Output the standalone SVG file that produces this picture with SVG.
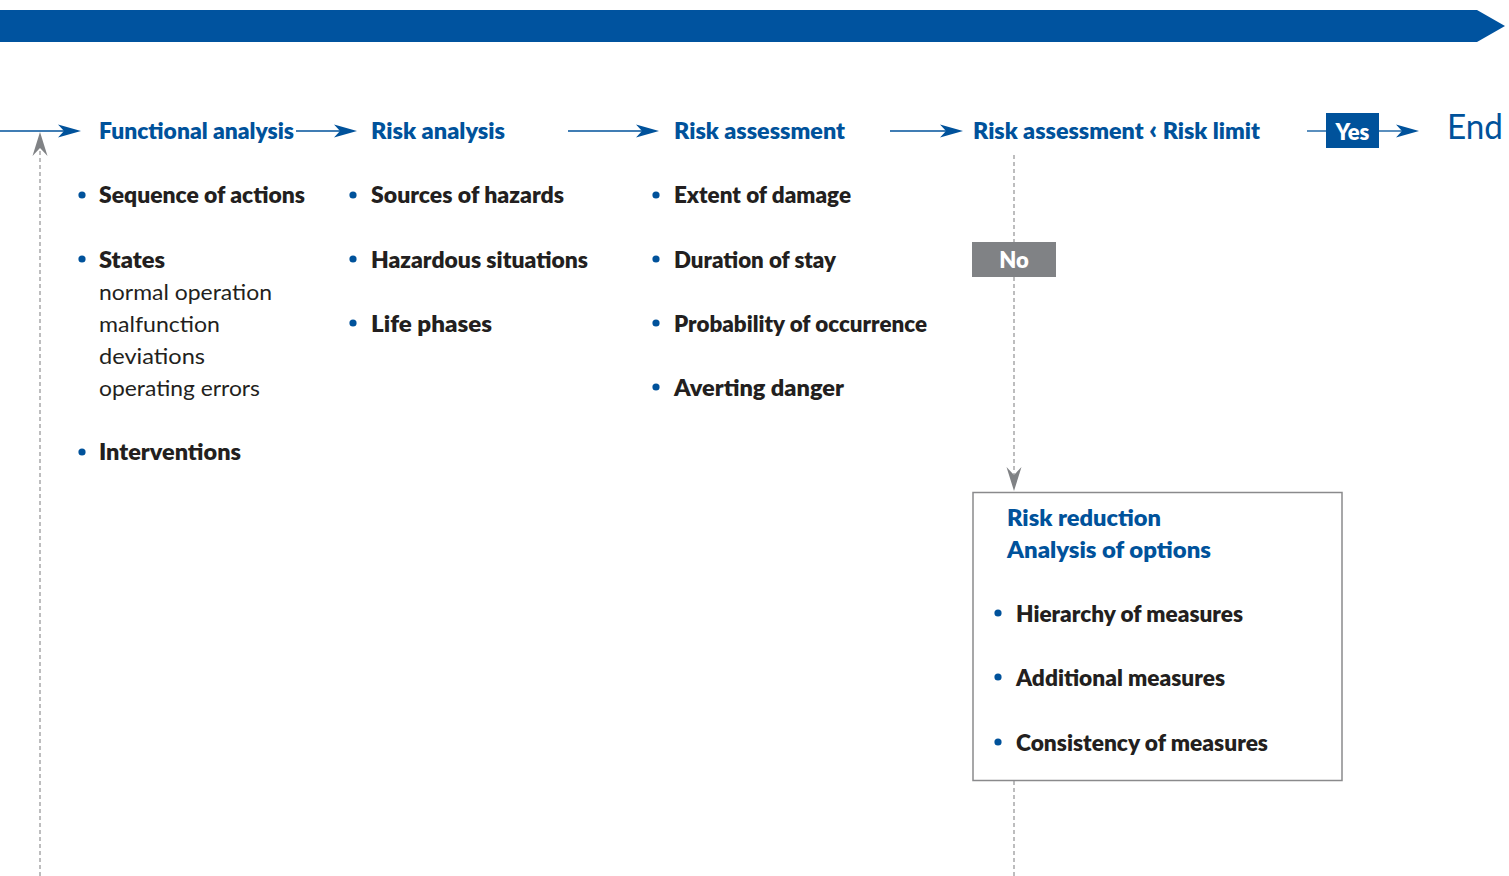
<svg xmlns="http://www.w3.org/2000/svg" xmlns:xlink="http://www.w3.org/1999/xlink" width="1509" height="876" viewBox="0 0 1509 876">
<style>
text{font-family:Lato,"Open Sans","Liberation Sans",sans-serif}
.h{fill:#00529b;font-weight:800;font-size:22px}
.b{fill:#231f20;font-weight:800;font-size:22px}
.r{fill:#231f20;font-weight:400;font-size:22px}
.w{fill:#fff;font-weight:800;font-size:22px}
.flow{stroke:#00529b;stroke-width:1.3;fill:none}
.dash{stroke:#9a9a9c;stroke-width:1.3;stroke-dasharray:4 3;fill:none}
.dot{fill:#00529b}
</style>
<defs>
<path id="ah" d="M0,0 L-23,-6.5 L-17,0 L-23,6.5 Z" fill="#00529b"/>
<path id="gh" d="M0,0 L-7.5,-24 L0,-16 L7.5,-24 Z" fill="#808285"/>
</defs>
<g id="banner"><path d="M0,10 H1477 L1505,26 L1477,42 H0 Z" fill="#00539f"/></g>
<g id="connectors">
<line class="flow" x1="0" y1="131" x2="64" y2="131"/><use xlink:href="#ah" x="81" y="131"/>
<line class="flow" x1="296" y1="131" x2="340" y2="131"/><use xlink:href="#ah" x="357" y="131"/>
<line class="flow" x1="568" y1="131" x2="642" y2="131"/><use xlink:href="#ah" x="659" y="131"/>
<line class="flow" x1="890" y1="131" x2="946" y2="131"/><use xlink:href="#ah" x="963" y="131"/>
<line class="flow" x1="1307" y1="131" x2="1326" y2="131"/>
<line class="flow" x1="1379" y1="131" x2="1402" y2="131"/><use xlink:href="#ah" x="1419" y="131"/>
<line class="dash" x1="40" y1="876" x2="40" y2="150"/>
<use xlink:href="#gh" transform="translate(40,132) rotate(180)"/>
<line class="dash" x1="1014" y1="155" x2="1014" y2="242"/>
<line class="dash" x1="1014" y1="277" x2="1014" y2="475"/>
<use xlink:href="#gh" x="1014" y="491"/>
<line class="dash" x1="1014" y1="781" x2="1014" y2="876"/>
</g>
<g id="functional-analysis">
<text class="h" x="99" y="139" textLength="195" lengthAdjust="spacingAndGlyphs">Functional analysis</text>
<circle class="dot" cx="82" cy="195" r="3.6"/><text class="b" x="99" y="203" textLength="206" lengthAdjust="spacingAndGlyphs">Sequence of actions</text>
<circle class="dot" cx="82" cy="259" r="3.6"/><text class="b" x="99" y="268" textLength="66" lengthAdjust="spacingAndGlyphs">States</text>
<text class="r" x="99" y="300" textLength="173" lengthAdjust="spacingAndGlyphs">normal operation</text>
<text class="r" x="99" y="332" textLength="121" lengthAdjust="spacingAndGlyphs">malfunction</text>
<text class="r" x="99" y="364" textLength="106" lengthAdjust="spacingAndGlyphs">deviations</text>
<text class="r" x="99" y="396" textLength="161" lengthAdjust="spacingAndGlyphs">operating errors</text>
<circle class="dot" cx="82" cy="452" r="3.6"/><text class="b" x="99" y="460" textLength="142" lengthAdjust="spacingAndGlyphs">Interventions</text>
</g>
<g id="risk-analysis">
<text class="h" x="371" y="139" textLength="134" lengthAdjust="spacingAndGlyphs">Risk analysis</text>
<circle class="dot" cx="353" cy="195" r="3.6"/><text class="b" x="371" y="203" textLength="193" lengthAdjust="spacingAndGlyphs">Sources of hazards</text>
<circle class="dot" cx="353" cy="259" r="3.6"/><text class="b" x="371" y="268" textLength="217" lengthAdjust="spacingAndGlyphs">Hazardous situations</text>
<circle class="dot" cx="353" cy="323" r="3.6"/><text class="b" x="371" y="332" textLength="121" lengthAdjust="spacingAndGlyphs">Life phases</text>
</g>
<g id="risk-assessment">
<text class="h" x="674" y="139" textLength="171" lengthAdjust="spacingAndGlyphs">Risk assessment</text>
<circle class="dot" cx="656" cy="195" r="3.6"/><text class="b" x="674" y="203" textLength="177" lengthAdjust="spacingAndGlyphs">Extent of damage</text>
<circle class="dot" cx="656" cy="259" r="3.6"/><text class="b" x="674" y="268" textLength="162" lengthAdjust="spacingAndGlyphs">Duration of stay</text>
<circle class="dot" cx="656" cy="323" r="3.6"/><text class="b" x="674" y="332" textLength="253" lengthAdjust="spacingAndGlyphs">Probability of occurrence</text>
<circle class="dot" cx="656" cy="387" r="3.6"/><text class="b" x="674" y="396" textLength="170" lengthAdjust="spacingAndGlyphs">Averting danger</text>
</g>
<g id="decision">
<text class="h" x="973" y="139" textLength="287" lengthAdjust="spacingAndGlyphs">Risk assessment <tspan font-size="26">‹</tspan> Risk limit</text>
</g>
<g id="yes">
<rect x="1326" y="113" width="53" height="35" fill="#00529b"/>
<text class="w" x="1352.5" y="140" text-anchor="middle">Yes</text>
</g>
<g id="end">
<text x="1447" y="139" fill="#00529b" font-size="35" font-weight="400" textLength="56" lengthAdjust="spacingAndGlyphs">End</text>
</g>
<g id="no">
<rect x="972" y="242" width="84" height="35" fill="#808285"/>
<text class="w" x="1014" y="268" text-anchor="middle">No</text>
</g>
<g id="risk-reduction">
<rect x="973" y="492.5" width="369" height="288" fill="#fff" stroke="#8a8a8c" stroke-width="1.5"/>
<text class="h" x="1007" y="526" textLength="154" lengthAdjust="spacingAndGlyphs">Risk reduction</text>
<text class="h" x="1007" y="558" textLength="204" lengthAdjust="spacingAndGlyphs">Analysis of options</text>
<circle class="dot" cx="998" cy="613" r="3.6"/><text class="b" x="1016" y="622" textLength="227" lengthAdjust="spacingAndGlyphs">Hierarchy of measures</text>
<circle class="dot" cx="998" cy="677" r="3.6"/><text class="b" x="1016" y="686" textLength="209" lengthAdjust="spacingAndGlyphs">Additional measures</text>
<circle class="dot" cx="998" cy="742" r="3.6"/><text class="b" x="1016" y="751" textLength="252" lengthAdjust="spacingAndGlyphs">Consistency of measures</text>
</g>
</svg>
